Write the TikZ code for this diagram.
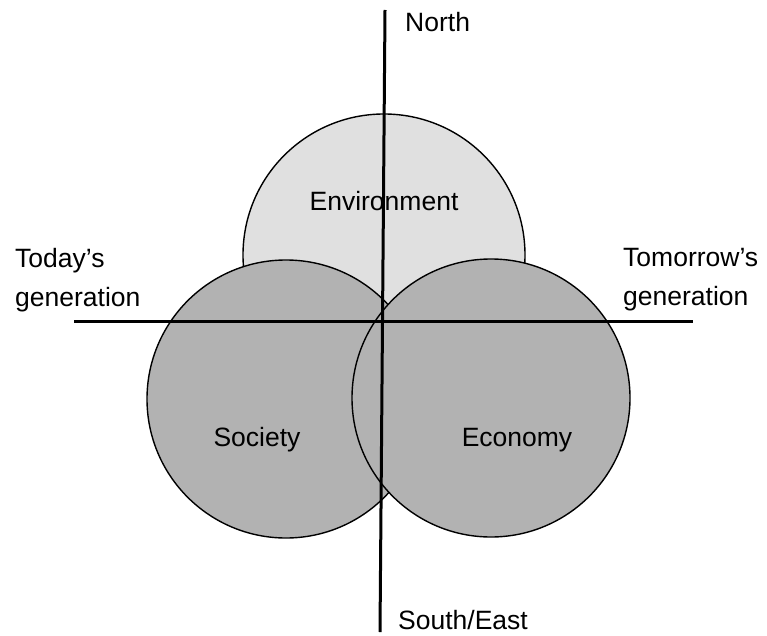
\documentclass[tikz,border=0pt]{standalone}
\usepackage{fontspec}
\setmainfont{Liberation Sans}
\usetikzlibrary{positioning}

\begin{document}
\begin{tikzpicture}[x=1pt,y=-1pt,
    ring/.style={circle,draw,line width=1.4pt,inner sep=0pt,minimum size=278pt},
    axis/.style={line width=3pt},
    lbl/.style={font=\fontsize{26.5}{39}\selectfont,inner sep=0pt,align=left}]
  \useasboundingbox (0,0) rectangle (767,636);
  % the three pillars
  \node[ring,fill=black!12,minimum size=282pt] (env) at (384,255) {};
  \node[ring,fill=black!30] (soc) at (286,399) {};
  \node[ring,fill=black!30] (eco) at (491,398) {};
  % axes
  \coordinate (north) at (385,10);
  \coordinate (south) at (380,632);
  \coordinate (west) at (74,321);
  \coordinate (east) at (693,321);
  \draw[axis] (north) -- (south);
  \draw[axis] (west) -- (east);
  % labels
  \node[lbl,anchor=base] (envlabel) at (384,211) {Environment};
  \node[lbl,anchor=base] (soclabel) at (257,446) {Society};
  \node[lbl,anchor=base] (ecolabel) at (517,446) {Economy};
  \node[lbl,anchor=base west] (northlabel) at (405,32) {North};
  \node[lbl,anchor=base west] (southlabel) at (398,629) {South/East};
  \node[lbl,anchor=north west] (today) at (15,248) {Today's\\generation};
  \node[lbl,anchor=north west] (tomorrow) at (623,248) {Tomorrow's\\generation};
\end{tikzpicture}
\end{document}
